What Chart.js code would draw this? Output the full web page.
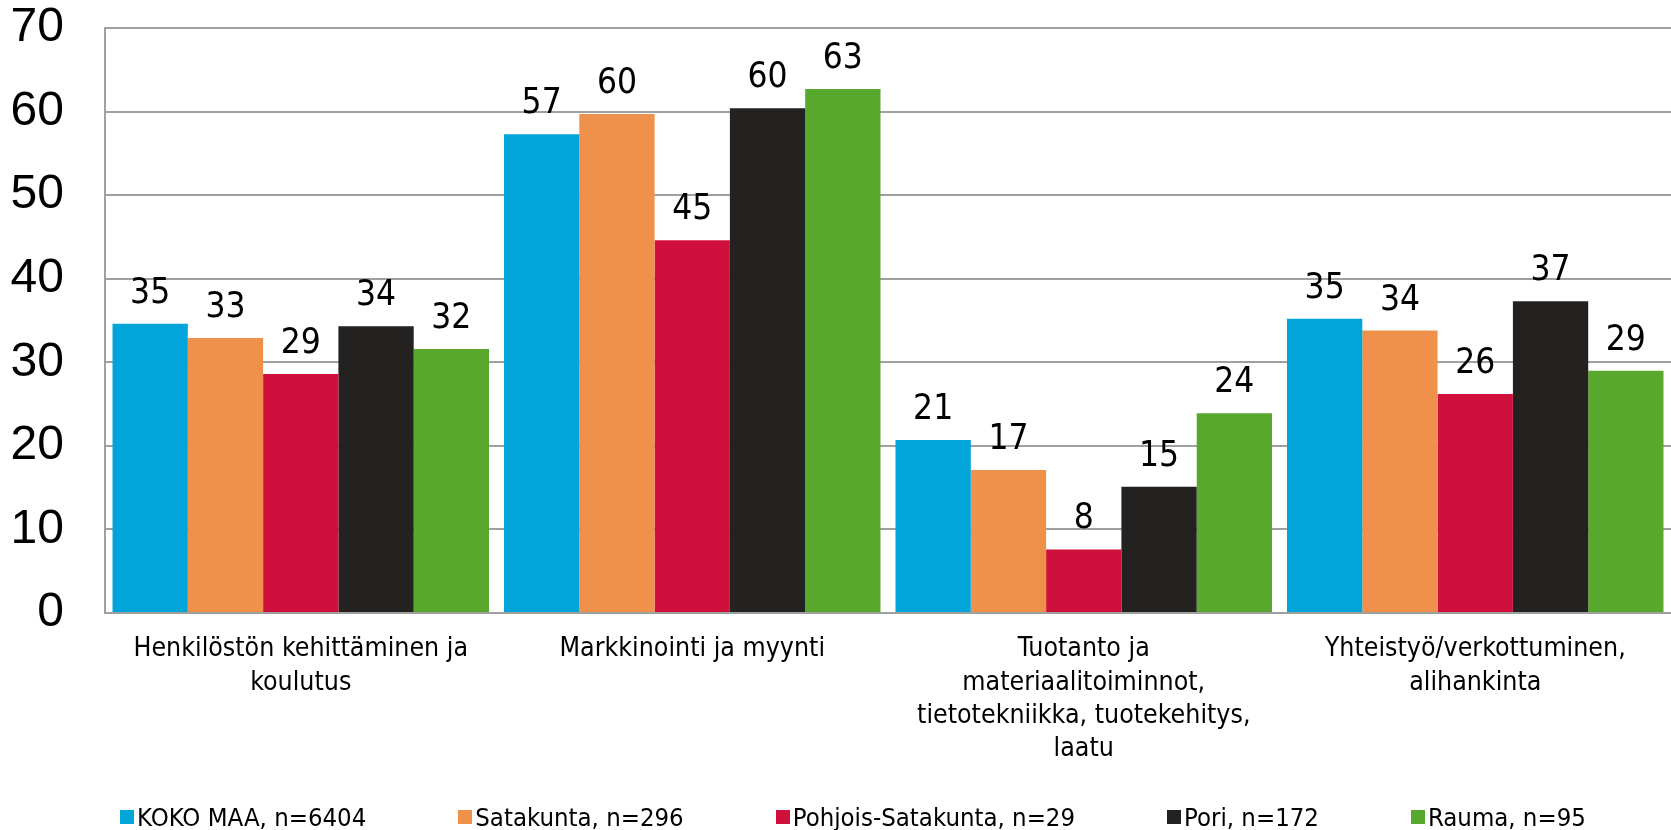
<!DOCTYPE html>
<html>
<head>
<meta charset="utf-8">
<script src="https://cdn.jsdelivr.net/npm/chart.js@4/dist/chart.umd.min.js"></script>
<style>
  html, body { margin: 0; padding: 0; background: #ffffff; }
  #wrap { width: 1671px; height: 830px; position: relative; }
  #legend { position: absolute; left: 120px; top: 803px; height: 28px; display: flex; align-items: center; gap: 92px;
            font-family: 'DejaVu Sans Condensed', 'DejaVu Sans', sans-serif; font-size: 25.5px; color: #000; white-space: nowrap; }
  #legend .item { display: flex; align-items: center; }
  #legend .box { width: 14px; height: 14px; margin-right: 3px; }
</style>
</head>
<body>
<div id="wrap"><canvas id="c" width="1671" height="830"></canvas><div id="legend"></div></div>
<script>
// ---- data ----
const categories = [
  ["Henkilöstön kehittäminen ja", "koulutus"],
  ["Markkinointi ja myynti"],
  ["Tuotanto ja", "materiaalitoiminnot,", "tietotekniikka, tuotekehitys,", "laatu"],
  ["Yhteistyö/verkottuminen,", "alihankinta"]
];
const seriesNames = ["KOKO MAA, n=6404", "Satakunta, n=296", "Pohjois-Satakunta, n=29", "Pori, n=172", "Rauma, n=95"];
const kokoMaa = [34.6, 57.3, 20.7, 35.2];
const satakunta = [32.9, 59.7, 17.1, 33.8];
const pohjoisSatakunta = [28.6, 44.6, 7.6, 26.2];
const pori = [34.3, 60.4, 15.1, 37.3];
const rauma = [31.6, 62.7, 23.9, 29.0];
const yTicks = [0, 10, 20, 30, 40, 50, 60, 70];

const seriesValues = [kokoMaa, satakunta, pohjoisSatakunta, pori, rauma];
const seriesColors = ["#02A5DA", "#F0914B", "#CF103D", "#232221", "#59A82E"];

const condensed = "'DejaVu Sans Condensed', 'DejaVu Sans'";

const valueLabels = {
  id: 'valueLabels',
  afterDatasetsDraw(chart) {
    const ctx = chart.ctx;
    ctx.save();
    ctx.font = "35px " + condensed;
    ctx.fillStyle = '#000';
    ctx.textAlign = 'center';
    ctx.textBaseline = 'alphabetic';
    chart.data.datasets.forEach((ds, i) => {
      const meta = chart.getDatasetMeta(i);
      meta.data.forEach((bar, j) => {
        ctx.fillText(String(Math.round(ds.data[j])), bar.x, bar.y - 21);
      });
    });
    ctx.restore();
  }
};

const chart = new Chart(document.getElementById('c'), {
  type: 'bar',
  data: {
    labels: categories,
    datasets: seriesNames.map((name, i) => ({
      label: name,
      data: seriesValues[i],
      backgroundColor: seriesColors[i],
      borderWidth: 0,
      categoryPercentage: 0.9617,
      barPercentage: 1.0
    }))
  },
  options: {
    responsive: false,
    animation: false,
    layout: { padding: { top: 28, bottom: 47, left: 0, right: 0 } },
    scales: {
      x: {
        grid: { display: false, drawTicks: false },
        border: { display: true, color: '#a0a0a0', width: 2 },
        ticks: {
          color: '#000',
          font: { family: condensed, size: 26.5, lineHeight: 1.25 },
          padding: 20,
          maxRotation: 0,
          autoSkip: false
        },
        afterFit(s) { s.height = 170; }
      },
      y: {
        min: 0,
        max: 70,
        afterBuildTicks(s) { s.ticks = yTicks.map(v => ({ value: v })); },
        ticks: {
          color: '#000',
          font: { family: "'Liberation Sans'", size: 48 },
          padding: 41
        },
        grid: { color: '#a0a0a0', lineWidth: 2, drawTicks: false },
        border: { color: '#a0a0a0', width: 2 },
        afterFit(s) { s.width = 105; s.paddingTop = 0; s.paddingBottom = 0; }
      }
    },
    plugins: {
      legend: { display: false },
      tooltip: { enabled: false }
    }
  },
  plugins: [valueLabels]
});

// legend built from the dataset names / colours
const legendEl = document.getElementById('legend');
chart.data.datasets.forEach(ds => {
  const item = document.createElement('div');
  item.className = 'item';
  const box = document.createElement('span');
  box.className = 'box';
  box.style.background = ds.backgroundColor;
  const txt = document.createElement('span');
  txt.textContent = ds.label;
  item.appendChild(box);
  item.appendChild(txt);
  legendEl.appendChild(item);
});
</script>
</body>
</html>
